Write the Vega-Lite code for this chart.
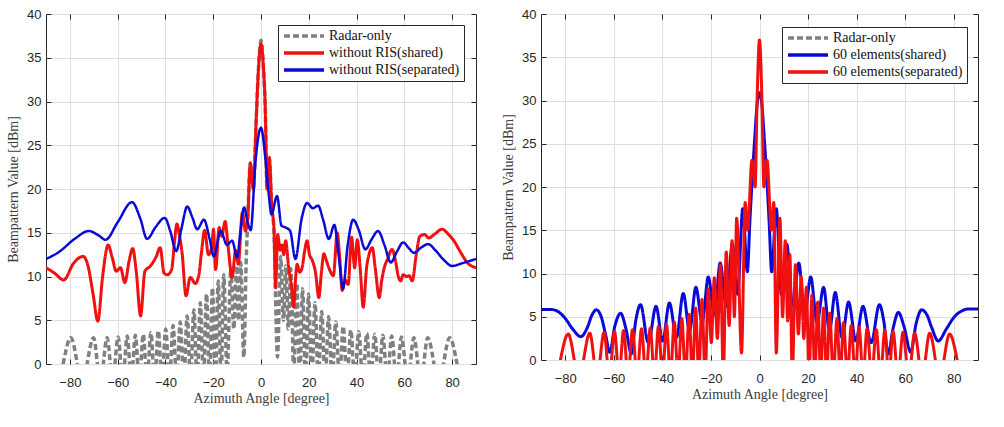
{
  "$schema": "https://vega.github.io/schema/vega-lite/v6.json",
  "background": "white",
  "padding": {"left": 6, "top": 7, "right": 0, "bottom": 0},
  "spacing": 24,
  "datasets": {
    "left": [
      {"s": "Radar-only", "x": -90, "y": -8}, {"s": "Radar-only", "x": -84.4, "y": -2}, {"s": "Radar-only", "x": -79.6, "y": 3.0}, {"s": "Radar-only", "x": -74.85, "y": -2}, {"s": "Radar-only", "x": -70.1, "y": 3.0}, {"s": "Radar-only", "x": -67.25, "y": -2}, {"s": "Radar-only", "x": -64.4, "y": 3.0}, {"s": "Radar-only", "x": -62.1, "y": -2}, {"s": "Radar-only", "x": -59.8, "y": 3.1}, {"s": "Radar-only", "x": -57.9, "y": -2}, {"s": "Radar-only", "x": -56.0, "y": 3.2}, {"s": "Radar-only", "x": -54.3, "y": -2}, {"s": "Radar-only", "x": -52.6, "y": 3.3}, {"s": "Radar-only", "x": -50.95, "y": -2}, {"s": "Radar-only", "x": -49.3, "y": 3.4}, {"s": "Radar-only", "x": -47.7, "y": -2}, {"s": "Radar-only", "x": -46.1, "y": 3.6}, {"s": "Radar-only", "x": -44.55, "y": -2}, {"s": "Radar-only", "x": -43.0, "y": 3.8}, {"s": "Radar-only", "x": -41.45, "y": -2}, {"s": "Radar-only", "x": -39.9, "y": 4.0}, {"s": "Radar-only", "x": -38.35, "y": -2}, {"s": "Radar-only", "x": -36.8, "y": 4.4}, {"s": "Radar-only", "x": -35.3, "y": -2}, {"s": "Radar-only", "x": -33.8, "y": 4.8}, {"s": "Radar-only", "x": -32.35, "y": -2}, {"s": "Radar-only", "x": -30.9, "y": 5.5}, {"s": "Radar-only", "x": -29.5, "y": -2}, {"s": "Radar-only", "x": -28.1, "y": 6.2}, {"s": "Radar-only", "x": -26.75, "y": -2}, {"s": "Radar-only", "x": -25.4, "y": 7.0}, {"s": "Radar-only", "x": -24.1, "y": -2}, {"s": "Radar-only", "x": -22.8, "y": 8.0}, {"s": "Radar-only", "x": -21.55, "y": -2}, {"s": "Radar-only", "x": -20.3, "y": 8.7}, {"s": "Radar-only", "x": -19.1, "y": -2}, {"s": "Radar-only", "x": -17.9, "y": 9.5}, {"s": "Radar-only", "x": -16.75, "y": -2}, {"s": "Radar-only", "x": -15.6, "y": 10.2}, {"s": "Radar-only", "x": -14.2, "y": -1}, {"s": "Radar-only", "x": -12.6, "y": 10.9}, {"s": "Radar-only", "x": -11.4, "y": 4.0}, {"s": "Radar-only", "x": -10.2, "y": 11.2}, {"s": "Radar-only", "x": -9.4, "y": 5.0}, {"s": "Radar-only", "x": -8.5, "y": 11.6}, {"s": "Radar-only", "x": -7.2, "y": 0.8}, {"s": "Radar-only", "x": -6.2, "y": 11.8}, {"s": "Radar-only", "x": -5.5, "y": 16.8}, {"s": "Radar-only", "x": -4.5, "y": 22.8}, {"s": "Radar-only", "x": -3.2, "y": 20.0}, {"s": "Radar-only", "x": -2.0, "y": 28.0}, {"s": "Radar-only", "x": -1.0, "y": 34.0}, {"s": "Radar-only", "x": 0, "y": 37}, {"s": "Radar-only", "x": 1.0, "y": 34.0}, {"s": "Radar-only", "x": 1.8, "y": 29.0}, {"s": "Radar-only", "x": 2.5, "y": 20.0}, {"s": "Radar-only", "x": 3.5, "y": 23.4}, {"s": "Radar-only", "x": 4.5, "y": 18.0}, {"s": "Radar-only", "x": 5.4, "y": 15.4}, {"s": "Radar-only", "x": 6.9, "y": 0.8}, {"s": "Radar-only", "x": 8.2, "y": 12.3}, {"s": "Radar-only", "x": 9.4, "y": 5.0}, {"s": "Radar-only", "x": 10.4, "y": 11.2}, {"s": "Radar-only", "x": 11.4, "y": 4.0}, {"s": "Radar-only", "x": 12.5, "y": 10.9}, {"s": "Radar-only", "x": 13.7, "y": -1}, {"s": "Radar-only", "x": 15.0, "y": 9.2}, {"s": "Radar-only", "x": 16.2, "y": -2}, {"s": "Radar-only", "x": 17.4, "y": 8.6}, {"s": "Radar-only", "x": 18.65, "y": -2}, {"s": "Radar-only", "x": 19.9, "y": 8.0}, {"s": "Radar-only", "x": 21.25, "y": -2}, {"s": "Radar-only", "x": 22.6, "y": 7.0}, {"s": "Radar-only", "x": 24.0, "y": -2}, {"s": "Radar-only", "x": 25.4, "y": 6.0}, {"s": "Radar-only", "x": 26.85, "y": -2}, {"s": "Radar-only", "x": 28.3, "y": 5.4}, {"s": "Radar-only", "x": 29.8, "y": -2}, {"s": "Radar-only", "x": 31.3, "y": 4.8}, {"s": "Radar-only", "x": 32.85, "y": -2}, {"s": "Radar-only", "x": 34.4, "y": 4.3}, {"s": "Radar-only", "x": 36.0, "y": -2}, {"s": "Radar-only", "x": 37.6, "y": 3.9}, {"s": "Radar-only", "x": 39.25, "y": -2}, {"s": "Radar-only", "x": 40.9, "y": 3.7}, {"s": "Radar-only", "x": 42.6, "y": -2}, {"s": "Radar-only", "x": 44.3, "y": 3.5}, {"s": "Radar-only", "x": 45.95, "y": -2}, {"s": "Radar-only", "x": 47.6, "y": 3.4}, {"s": "Radar-only", "x": 49.3, "y": -2}, {"s": "Radar-only", "x": 51.0, "y": 3.3}, {"s": "Radar-only", "x": 52.85, "y": -2}, {"s": "Radar-only", "x": 54.7, "y": 3.2}, {"s": "Radar-only", "x": 56.75, "y": -2}, {"s": "Radar-only", "x": 58.8, "y": 3.1}, {"s": "Radar-only", "x": 61.4, "y": -2}, {"s": "Radar-only", "x": 64.0, "y": 3.0}, {"s": "Radar-only", "x": 66.9, "y": -2}, {"s": "Radar-only", "x": 69.8, "y": 3.0}, {"s": "Radar-only", "x": 74.4, "y": -2}, {"s": "Radar-only", "x": 79.0, "y": 3.0}, {"s": "Radar-only", "x": 83.6, "y": -2}, {"s": "Radar-only", "x": 90, "y": -8},

      {"s": "without RIS(shared)", "x": -90, "y": 11.0}, {"s": "without RIS(shared)", "x": -86.5, "y": 10.4}, {"s": "without RIS(shared)", "x": -82.6, "y": 9.6}, {"s": "without RIS(shared)", "x": -78.5, "y": 11.5}, {"s": "without RIS(shared)", "x": -74.5, "y": 12.3}, {"s": "without RIS(shared)", "x": -72.5, "y": 11.3}, {"s": "without RIS(shared)", "x": -70.3, "y": 8.0}, {"s": "without RIS(shared)", "x": -68.3, "y": 4.9}, {"s": "without RIS(shared)", "x": -66.3, "y": 10.0}, {"s": "without RIS(shared)", "x": -64.0, "y": 13.6}, {"s": "without RIS(shared)", "x": -62.3, "y": 12.2}, {"s": "without RIS(shared)", "x": -60.6, "y": 10.6}, {"s": "without RIS(shared)", "x": -58.8, "y": 11.0}, {"s": "without RIS(shared)", "x": -57.0, "y": 9.3}, {"s": "without RIS(shared)", "x": -55.2, "y": 11.8}, {"s": "without RIS(shared)", "x": -53.7, "y": 13.2}, {"s": "without RIS(shared)", "x": -52.2, "y": 10.5}, {"s": "without RIS(shared)", "x": -50.4, "y": 5.5}, {"s": "without RIS(shared)", "x": -48.6, "y": 10.6}, {"s": "without RIS(shared)", "x": -46.3, "y": 11.2}, {"s": "without RIS(shared)", "x": -44.0, "y": 12.2}, {"s": "without RIS(shared)", "x": -42.2, "y": 13.3}, {"s": "without RIS(shared)", "x": -40.6, "y": 10.4}, {"s": "without RIS(shared)", "x": -39.2, "y": 10.2}, {"s": "without RIS(shared)", "x": -37.4, "y": 10.8}, {"s": "without RIS(shared)", "x": -36.2, "y": 14.0}, {"s": "without RIS(shared)", "x": -35.2, "y": 16.0}, {"s": "without RIS(shared)", "x": -34.2, "y": 14.8}, {"s": "without RIS(shared)", "x": -33.0, "y": 12.6}, {"s": "without RIS(shared)", "x": -31.4, "y": 7.8}, {"s": "without RIS(shared)", "x": -29.6, "y": 9.9}, {"s": "without RIS(shared)", "x": -27.5, "y": 9.2}, {"s": "without RIS(shared)", "x": -26.0, "y": 10.2}, {"s": "without RIS(shared)", "x": -24.9, "y": 12.8}, {"s": "without RIS(shared)", "x": -23.6, "y": 15.3}, {"s": "without RIS(shared)", "x": -22.0, "y": 12.5}, {"s": "without RIS(shared)", "x": -20.6, "y": 13.4}, {"s": "without RIS(shared)", "x": -19.9, "y": 15.4}, {"s": "without RIS(shared)", "x": -19.0, "y": 10.8}, {"s": "without RIS(shared)", "x": -17.5, "y": 15.6}, {"s": "without RIS(shared)", "x": -16.4, "y": 14.6}, {"s": "without RIS(shared)", "x": -15.0, "y": 16.3}, {"s": "without RIS(shared)", "x": -13.8, "y": 13.5}, {"s": "without RIS(shared)", "x": -12.1, "y": 9.9}, {"s": "without RIS(shared)", "x": -10.6, "y": 13.0}, {"s": "without RIS(shared)", "x": -9.5, "y": 11.4}, {"s": "without RIS(shared)", "x": -7.8, "y": 17.3}, {"s": "without RIS(shared)", "x": -6.5, "y": 15.2}, {"s": "without RIS(shared)", "x": -5.5, "y": 17.0}, {"s": "without RIS(shared)", "x": -4.5, "y": 23.0}, {"s": "without RIS(shared)", "x": -3.2, "y": 20.0}, {"s": "without RIS(shared)", "x": -2.0, "y": 28.0}, {"s": "without RIS(shared)", "x": -1.0, "y": 34.0}, {"s": "without RIS(shared)", "x": 0, "y": 36.6}, {"s": "without RIS(shared)", "x": 1.0, "y": 34.0}, {"s": "without RIS(shared)", "x": 1.8, "y": 29.0}, {"s": "without RIS(shared)", "x": 2.5, "y": 20.0}, {"s": "without RIS(shared)", "x": 3.5, "y": 23.6}, {"s": "without RIS(shared)", "x": 4.5, "y": 18.0}, {"s": "without RIS(shared)", "x": 5.4, "y": 15.6}, {"s": "without RIS(shared)", "x": 6.1, "y": 8.7}, {"s": "without RIS(shared)", "x": 7.0, "y": 14.8}, {"s": "without RIS(shared)", "x": 8.0, "y": 13.0}, {"s": "without RIS(shared)", "x": 8.8, "y": 13.6}, {"s": "without RIS(shared)", "x": 9.5, "y": 12.5}, {"s": "without RIS(shared)", "x": 10.3, "y": 14.1}, {"s": "without RIS(shared)", "x": 11.6, "y": 11.0}, {"s": "without RIS(shared)", "x": 12.6, "y": 9.2}, {"s": "without RIS(shared)", "x": 13.7, "y": 6.5}, {"s": "without RIS(shared)", "x": 14.4, "y": 9.5}, {"s": "without RIS(shared)", "x": 15.1, "y": 11.4}, {"s": "without RIS(shared)", "x": 16.2, "y": 10.5}, {"s": "without RIS(shared)", "x": 17.2, "y": 11.0}, {"s": "without RIS(shared)", "x": 18.2, "y": 12.8}, {"s": "without RIS(shared)", "x": 19.3, "y": 14.1}, {"s": "without RIS(shared)", "x": 20.3, "y": 12.5}, {"s": "without RIS(shared)", "x": 21.4, "y": 11.9}, {"s": "without RIS(shared)", "x": 22.8, "y": 10.5}, {"s": "without RIS(shared)", "x": 24.2, "y": 7.6}, {"s": "without RIS(shared)", "x": 25.3, "y": 10.5}, {"s": "without RIS(shared)", "x": 26.3, "y": 12.6}, {"s": "without RIS(shared)", "x": 27.4, "y": 11.8}, {"s": "without RIS(shared)", "x": 28.4, "y": 11.0}, {"s": "without RIS(shared)", "x": 30.3, "y": 10.1}, {"s": "without RIS(shared)", "x": 31.9, "y": 15.0}, {"s": "without RIS(shared)", "x": 33.0, "y": 12.0}, {"s": "without RIS(shared)", "x": 34.0, "y": 8.4}, {"s": "without RIS(shared)", "x": 35.2, "y": 9.6}, {"s": "without RIS(shared)", "x": 36.5, "y": 9.1}, {"s": "without RIS(shared)", "x": 37.9, "y": 14.5}, {"s": "without RIS(shared)", "x": 39.2, "y": 11.0}, {"s": "without RIS(shared)", "x": 40.3, "y": 14.2}, {"s": "without RIS(shared)", "x": 41.5, "y": 11.0}, {"s": "without RIS(shared)", "x": 42.8, "y": 6.5}, {"s": "without RIS(shared)", "x": 44.2, "y": 11.0}, {"s": "without RIS(shared)", "x": 45.3, "y": 12.6}, {"s": "without RIS(shared)", "x": 46.6, "y": 13.3}, {"s": "without RIS(shared)", "x": 47.8, "y": 11.0}, {"s": "without RIS(shared)", "x": 49.5, "y": 7.6}, {"s": "without RIS(shared)", "x": 50.5, "y": 9.5}, {"s": "without RIS(shared)", "x": 51.6, "y": 11.0}, {"s": "without RIS(shared)", "x": 53.0, "y": 12.0}, {"s": "without RIS(shared)", "x": 54.9, "y": 13.1}, {"s": "without RIS(shared)", "x": 56.3, "y": 11.8}, {"s": "without RIS(shared)", "x": 57.5, "y": 10.0}, {"s": "without RIS(shared)", "x": 58.5, "y": 9.5}, {"s": "without RIS(shared)", "x": 59.5, "y": 10.2}, {"s": "without RIS(shared)", "x": 61.0, "y": 10.0}, {"s": "without RIS(shared)", "x": 62.0, "y": 10.1}, {"s": "without RIS(shared)", "x": 63.3, "y": 9.5}, {"s": "without RIS(shared)", "x": 65.0, "y": 12.5}, {"s": "without RIS(shared)", "x": 66.5, "y": 14.6}, {"s": "without RIS(shared)", "x": 68.5, "y": 14.8}, {"s": "without RIS(shared)", "x": 70.2, "y": 14.4}, {"s": "without RIS(shared)", "x": 72.5, "y": 14.8}, {"s": "without RIS(shared)", "x": 75.8, "y": 15.4}, {"s": "without RIS(shared)", "x": 78.5, "y": 14.8}, {"s": "without RIS(shared)", "x": 80.7, "y": 14.1}, {"s": "without RIS(shared)", "x": 83.5, "y": 12.8}, {"s": "without RIS(shared)", "x": 86.3, "y": 11.6}, {"s": "without RIS(shared)", "x": 90, "y": 11.0},

      {"s": "without RIS(separated)", "x": -90, "y": 12.0}, {"s": "without RIS(separated)", "x": -84.6, "y": 12.8}, {"s": "without RIS(separated)", "x": -78.0, "y": 14.3}, {"s": "without RIS(separated)", "x": -72.1, "y": 15.2}, {"s": "without RIS(separated)", "x": -68.0, "y": 14.7}, {"s": "without RIS(separated)", "x": -65.1, "y": 14.2}, {"s": "without RIS(separated)", "x": -60.0, "y": 16.2}, {"s": "without RIS(separated)", "x": -54.0, "y": 18.5}, {"s": "without RIS(separated)", "x": -50.5, "y": 16.6}, {"s": "without RIS(separated)", "x": -47.7, "y": 14.3}, {"s": "without RIS(separated)", "x": -44.0, "y": 15.7}, {"s": "without RIS(separated)", "x": -40.3, "y": 16.7}, {"s": "without RIS(separated)", "x": -38.0, "y": 15.2}, {"s": "without RIS(separated)", "x": -35.5, "y": 12.9}, {"s": "without RIS(separated)", "x": -33.2, "y": 15.6}, {"s": "without RIS(separated)", "x": -30.9, "y": 18.0}, {"s": "without RIS(separated)", "x": -28.8, "y": 16.8}, {"s": "without RIS(separated)", "x": -26.7, "y": 15.4}, {"s": "without RIS(separated)", "x": -23.9, "y": 16.5}, {"s": "without RIS(separated)", "x": -21.5, "y": 14.3}, {"s": "without RIS(separated)", "x": -19.8, "y": 12.3}, {"s": "without RIS(separated)", "x": -16.9, "y": 15.2}, {"s": "without RIS(separated)", "x": -14.2, "y": 13.6}, {"s": "without RIS(separated)", "x": -12.1, "y": 14.1}, {"s": "without RIS(separated)", "x": -10.0, "y": 12.2}, {"s": "without RIS(separated)", "x": -8.6, "y": 15.2}, {"s": "without RIS(separated)", "x": -7.1, "y": 17.9}, {"s": "without RIS(separated)", "x": -5.6, "y": 16.2}, {"s": "without RIS(separated)", "x": -4.3, "y": 15.3}, {"s": "without RIS(separated)", "x": -2.3, "y": 23.2}, {"s": "without RIS(separated)", "x": 0, "y": 27.0}, {"s": "without RIS(separated)", "x": 1.8, "y": 23.6}, {"s": "without RIS(separated)", "x": 3.2, "y": 19.5}, {"s": "without RIS(separated)", "x": 4.4, "y": 17.1}, {"s": "without RIS(separated)", "x": 6.7, "y": 19.2}, {"s": "without RIS(separated)", "x": 8.6, "y": 15.8}, {"s": "without RIS(separated)", "x": 10.3, "y": 15.6}, {"s": "without RIS(separated)", "x": 12.2, "y": 15.2}, {"s": "without RIS(separated)", "x": 14.4, "y": 12.0}, {"s": "without RIS(separated)", "x": 17.0, "y": 16.6}, {"s": "without RIS(separated)", "x": 19.3, "y": 18.4}, {"s": "without RIS(separated)", "x": 21.7, "y": 17.8}, {"s": "without RIS(separated)", "x": 23.9, "y": 18.1}, {"s": "without RIS(separated)", "x": 26.0, "y": 16.5}, {"s": "without RIS(separated)", "x": 28.4, "y": 14.3}, {"s": "without RIS(separated)", "x": 30.7, "y": 15.9}, {"s": "without RIS(separated)", "x": 32.6, "y": 12.2}, {"s": "without RIS(separated)", "x": 34.3, "y": 8.6}, {"s": "without RIS(separated)", "x": 36.3, "y": 13.6}, {"s": "without RIS(separated)", "x": 38.6, "y": 16.5}, {"s": "without RIS(separated)", "x": 40.8, "y": 15.4}, {"s": "without RIS(separated)", "x": 43.7, "y": 13.1}, {"s": "without RIS(separated)", "x": 46.2, "y": 14.2}, {"s": "without RIS(separated)", "x": 49.0, "y": 15.2}, {"s": "without RIS(separated)", "x": 51.8, "y": 13.5}, {"s": "without RIS(separated)", "x": 54.3, "y": 11.6}, {"s": "without RIS(separated)", "x": 57.0, "y": 12.9}, {"s": "without RIS(separated)", "x": 59.5, "y": 13.9}, {"s": "without RIS(separated)", "x": 62.0, "y": 13.2}, {"s": "without RIS(separated)", "x": 64.0, "y": 12.7}, {"s": "without RIS(separated)", "x": 67.0, "y": 13.3}, {"s": "without RIS(separated)", "x": 70.0, "y": 13.7}, {"s": "without RIS(separated)", "x": 73.0, "y": 13.0}, {"s": "without RIS(separated)", "x": 76.5, "y": 11.9}, {"s": "without RIS(separated)", "x": 80.0, "y": 11.2}, {"s": "without RIS(separated)", "x": 84.0, "y": 11.5}, {"s": "without RIS(separated)", "x": 90, "y": 12.0}
    ],
    "right": [
      {"s": "60 elements(shared)", "x": -90, "y": 5.85}, {"s": "60 elements(shared)", "x": -86, "y": 5.85}, {"s": "60 elements(shared)", "x": -83, "y": 5.6}, {"s": "60 elements(shared)", "x": -80, "y": 4.8}, {"s": "60 elements(shared)", "x": -77, "y": 3.6}, {"s": "60 elements(shared)", "x": -73.6, "y": 2.7}, {"s": "60 elements(shared)", "x": -71, "y": 3.7}, {"s": "60 elements(shared)", "x": -69, "y": 5.2}, {"s": "60 elements(shared)", "x": -67.2, "y": 5.8}, {"s": "60 elements(shared)", "x": -65.2, "y": 5.0}, {"s": "60 elements(shared)", "x": -63.3, "y": 2.8}, {"s": "60 elements(shared)", "x": -61.7, "y": 0.9}, {"s": "60 elements(shared)", "x": -59.6, "y": 3.9}, {"s": "60 elements(shared)", "x": -57.2, "y": 5.4}, {"s": "60 elements(shared)", "x": -55, "y": 3.6}, {"s": "60 elements(shared)", "x": -52.8, "y": 0.7}, {"s": "60 elements(shared)", "x": -51, "y": 4.5}, {"s": "60 elements(shared)", "x": -49.0, "y": 6.4}, {"s": "60 elements(shared)", "x": -45.8, "y": 2.0}, {"s": "60 elements(shared)", "x": -42.6, "y": 6.2}, {"s": "60 elements(shared)", "x": -39.9, "y": 2.2}, {"s": "60 elements(shared)", "x": -37.1, "y": 6.6}, {"s": "60 elements(shared)", "x": -34.2, "y": 2.6}, {"s": "60 elements(shared)", "x": -31.4, "y": 7.7}, {"s": "60 elements(shared)", "x": -28.8, "y": 3.4}, {"s": "60 elements(shared)", "x": -26.2, "y": 8.4}, {"s": "60 elements(shared)", "x": -23.6, "y": 4.3}, {"s": "60 elements(shared)", "x": -21.1, "y": 9.6}, {"s": "60 elements(shared)", "x": -18.6, "y": 5.2}, {"s": "60 elements(shared)", "x": -16.2, "y": 11.2}, {"s": "60 elements(shared)", "x": -13.7, "y": 6.2}, {"s": "60 elements(shared)", "x": -11.2, "y": 13.4}, {"s": "60 elements(shared)", "x": -9.0, "y": 7.6}, {"s": "60 elements(shared)", "x": -6.9, "y": 17.5}, {"s": "60 elements(shared)", "x": -5.0, "y": 10.2}, {"s": "60 elements(shared)", "x": -4.0, "y": 15.8}, {"s": "60 elements(shared)", "x": -3.0, "y": 21.0}, {"s": "60 elements(shared)", "x": -2.0, "y": 25.5}, {"s": "60 elements(shared)", "x": -1.0, "y": 29.5}, {"s": "60 elements(shared)", "x": 0, "y": 30.9}, {"s": "60 elements(shared)", "x": 1.0, "y": 29.5}, {"s": "60 elements(shared)", "x": 2.0, "y": 25.5}, {"s": "60 elements(shared)", "x": 3.0, "y": 21.0}, {"s": "60 elements(shared)", "x": 4.0, "y": 15.8}, {"s": "60 elements(shared)", "x": 5.0, "y": 10.2}, {"s": "60 elements(shared)", "x": 6.9, "y": 17.5}, {"s": "60 elements(shared)", "x": 9.0, "y": 7.6}, {"s": "60 elements(shared)", "x": 11.2, "y": 13.4}, {"s": "60 elements(shared)", "x": 13.7, "y": 6.2}, {"s": "60 elements(shared)", "x": 16.2, "y": 11.2}, {"s": "60 elements(shared)", "x": 18.6, "y": 5.2}, {"s": "60 elements(shared)", "x": 21.1, "y": 9.6}, {"s": "60 elements(shared)", "x": 23.7, "y": 4.3}, {"s": "60 elements(shared)", "x": 26.4, "y": 8.4}, {"s": "60 elements(shared)", "x": 28.8, "y": 3.4}, {"s": "60 elements(shared)", "x": 31.2, "y": 7.8}, {"s": "60 elements(shared)", "x": 34.0, "y": 2.6}, {"s": "60 elements(shared)", "x": 36.7, "y": 6.7}, {"s": "60 elements(shared)", "x": 39.7, "y": 2.2}, {"s": "60 elements(shared)", "x": 42.6, "y": 6.2}, {"s": "60 elements(shared)", "x": 46.0, "y": 2.0}, {"s": "60 elements(shared)", "x": 49.4, "y": 6.4}, {"s": "60 elements(shared)", "x": 51.2, "y": 4.5}, {"s": "60 elements(shared)", "x": 53.0, "y": 0.7}, {"s": "60 elements(shared)", "x": 55, "y": 3.6}, {"s": "60 elements(shared)", "x": 57.2, "y": 5.5}, {"s": "60 elements(shared)", "x": 59.5, "y": 3.9}, {"s": "60 elements(shared)", "x": 62.3, "y": 0.9}, {"s": "60 elements(shared)", "x": 64.5, "y": 4.2}, {"s": "60 elements(shared)", "x": 66.8, "y": 5.8}, {"s": "60 elements(shared)", "x": 69, "y": 5.2}, {"s": "60 elements(shared)", "x": 71, "y": 3.7}, {"s": "60 elements(shared)", "x": 73.6, "y": 2.2}, {"s": "60 elements(shared)", "x": 77, "y": 3.6}, {"s": "60 elements(shared)", "x": 80, "y": 4.9}, {"s": "60 elements(shared)", "x": 83.5, "y": 5.7}, {"s": "60 elements(shared)", "x": 86, "y": 5.9}, {"s": "60 elements(shared)", "x": 90, "y": 5.9},

      {"s": "60 elements(separated)", "x": -90, "y": -8}, {"s": "60 elements(separated)", "x": -83.6, "y": -2}, {"s": "60 elements(separated)", "x": -78.8, "y": 3.0}, {"s": "60 elements(separated)", "x": -74.4, "y": -2}, {"s": "60 elements(separated)", "x": -69.9, "y": 3.1}, {"s": "60 elements(separated)", "x": -66.9, "y": -2}, {"s": "60 elements(separated)", "x": -64.0, "y": 3.2}, {"s": "60 elements(separated)", "x": -61.85, "y": -2}, {"s": "60 elements(separated)", "x": -59.7, "y": 3.3}, {"s": "60 elements(separated)", "x": -57.85, "y": -2}, {"s": "60 elements(separated)", "x": -56.0, "y": 3.4}, {"s": "60 elements(separated)", "x": -54.15, "y": -2}, {"s": "60 elements(separated)", "x": -52.3, "y": 3.5}, {"s": "60 elements(separated)", "x": -50.45, "y": -2}, {"s": "60 elements(separated)", "x": -48.6, "y": 3.6}, {"s": "60 elements(separated)", "x": -46.8, "y": -2}, {"s": "60 elements(separated)", "x": -45.0, "y": 3.7}, {"s": "60 elements(separated)", "x": -43.3, "y": -2}, {"s": "60 elements(separated)", "x": -41.6, "y": 3.9}, {"s": "60 elements(separated)", "x": -39.95, "y": -2}, {"s": "60 elements(separated)", "x": -38.3, "y": 4.1}, {"s": "60 elements(separated)", "x": -36.7, "y": -2}, {"s": "60 elements(separated)", "x": -35.1, "y": 4.4}, {"s": "60 elements(separated)", "x": -33.55, "y": -2}, {"s": "60 elements(separated)", "x": -32.0, "y": 4.8}, {"s": "60 elements(separated)", "x": -30.5, "y": -2}, {"s": "60 elements(separated)", "x": -29.0, "y": 5.3}, {"s": "60 elements(separated)", "x": -27.65, "y": -2}, {"s": "60 elements(separated)", "x": -26.3, "y": 6.0}, {"s": "60 elements(separated)", "x": -25.0, "y": -2}, {"s": "60 elements(separated)", "x": -23.7, "y": 7.0}, {"s": "60 elements(separated)", "x": -22.4, "y": -2}, {"s": "60 elements(separated)", "x": -21.1, "y": 8.2}, {"s": "60 elements(separated)", "x": -19.85, "y": 2.0}, {"s": "60 elements(separated)", "x": -18.6, "y": 9.5}, {"s": "60 elements(separated)", "x": -17.35, "y": 2.5}, {"s": "60 elements(separated)", "x": -16.1, "y": 11.0}, {"s": "60 elements(separated)", "x": -14.9, "y": -2}, {"s": "60 elements(separated)", "x": -13.7, "y": 12.5}, {"s": "60 elements(separated)", "x": -12.5, "y": 4.0}, {"s": "60 elements(separated)", "x": -11.3, "y": 13.8}, {"s": "60 elements(separated)", "x": -10.35, "y": 5.0}, {"s": "60 elements(separated)", "x": -9.4, "y": 16.4}, {"s": "60 elements(separated)", "x": -7.4, "y": 0.8}, {"s": "60 elements(separated)", "x": -5.9, "y": 18.2}, {"s": "60 elements(separated)", "x": -4.9, "y": 15.0}, {"s": "60 elements(separated)", "x": -3.1, "y": 23.1}, {"s": "60 elements(separated)", "x": -1.8, "y": 20.0}, {"s": "60 elements(separated)", "x": -1.0, "y": 30.0}, {"s": "60 elements(separated)", "x": 0, "y": 37.0}, {"s": "60 elements(separated)", "x": 1.0, "y": 30.0}, {"s": "60 elements(separated)", "x": 1.8, "y": 20.0}, {"s": "60 elements(separated)", "x": 3.1, "y": 23.1}, {"s": "60 elements(separated)", "x": 4.9, "y": 15.0}, {"s": "60 elements(separated)", "x": 5.9, "y": 18.2}, {"s": "60 elements(separated)", "x": 6.9, "y": 0.8}, {"s": "60 elements(separated)", "x": 8.4, "y": 16.4}, {"s": "60 elements(separated)", "x": 9.5, "y": 5.0}, {"s": "60 elements(separated)", "x": 10.6, "y": 13.8}, {"s": "60 elements(separated)", "x": 11.6, "y": 4.5}, {"s": "60 elements(separated)", "x": 12.5, "y": 12.2}, {"s": "60 elements(separated)", "x": 13.5, "y": -2}, {"s": "60 elements(separated)", "x": 14.8, "y": 11.0}, {"s": "60 elements(separated)", "x": 16.0, "y": 3.0}, {"s": "60 elements(separated)", "x": 17.2, "y": 9.6}, {"s": "60 elements(separated)", "x": 18.25, "y": 2.5}, {"s": "60 elements(separated)", "x": 19.3, "y": 8.4}, {"s": "60 elements(separated)", "x": 20.4, "y": -2}, {"s": "60 elements(separated)", "x": 21.6, "y": 7.5}, {"s": "60 elements(separated)", "x": 22.8, "y": -2}, {"s": "60 elements(separated)", "x": 24.0, "y": 6.7}, {"s": "60 elements(separated)", "x": 25.2, "y": -2}, {"s": "60 elements(separated)", "x": 26.4, "y": 6.0}, {"s": "60 elements(separated)", "x": 27.65, "y": -2}, {"s": "60 elements(separated)", "x": 28.9, "y": 5.4}, {"s": "60 elements(separated)", "x": 30.4, "y": -2}, {"s": "60 elements(separated)", "x": 31.9, "y": 4.8}, {"s": "60 elements(separated)", "x": 33.25, "y": -2}, {"s": "60 elements(separated)", "x": 34.6, "y": 4.3}, {"s": "60 elements(separated)", "x": 36.2, "y": -2}, {"s": "60 elements(separated)", "x": 37.8, "y": 4.0}, {"s": "60 elements(separated)", "x": 39.4, "y": -2}, {"s": "60 elements(separated)", "x": 41.0, "y": 3.8}, {"s": "60 elements(separated)", "x": 42.65, "y": -2}, {"s": "60 elements(separated)", "x": 44.3, "y": 3.6}, {"s": "60 elements(separated)", "x": 46.2, "y": -2}, {"s": "60 elements(separated)", "x": 48.1, "y": 3.5}, {"s": "60 elements(separated)", "x": 49.85, "y": -2}, {"s": "60 elements(separated)", "x": 51.6, "y": 3.4}, {"s": "60 elements(separated)", "x": 53.3, "y": -2}, {"s": "60 elements(separated)", "x": 55.0, "y": 3.3}, {"s": "60 elements(separated)", "x": 57.05, "y": -2}, {"s": "60 elements(separated)", "x": 59.1, "y": 3.2}, {"s": "60 elements(separated)", "x": 61.5, "y": -2}, {"s": "60 elements(separated)", "x": 63.9, "y": 3.1}, {"s": "60 elements(separated)", "x": 67.0, "y": -2}, {"s": "60 elements(separated)", "x": 70.1, "y": 3.1}, {"s": "60 elements(separated)", "x": 74.2, "y": -2}, {"s": "60 elements(separated)", "x": 78.3, "y": 3.0}, {"s": "60 elements(separated)", "x": 83.0, "y": -2}, {"s": "60 elements(separated)", "x": 90, "y": -8}
    ]
  },
  "hconcat": [
    {
      "width": 430,
      "height": 350,
      "data": {"name": "left"},
      "resolve": {"axis": {"x": "independent", "y": "independent"}},
      "layer": [
        {
          "transform": [{"filter": "datum.s === 'Radar-only'"}],
          "mark": {"type": "line", "interpolate": "monotone", "clip": true, "strokeWidth": 3.5, "strokeCap": "butt"},
          "encoding": {
            "x": {"field": "x", "type": "quantitative", "scale": {"domain": [-90, 90], "nice": false, "zero": false},
                  "axis": {"title": "Azimuth Angle [degree]", "values": [-80, -60, -40, -20, 0, 20, 40, 60, 80], "grid": true, "labelPadding": 17, "titlePadding": 2}},
            "y": {"field": "y", "type": "quantitative", "scale": {"domain": [0, 40], "nice": false},
                  "axis": {"title": "Beampattern Value [dBm]", "values": [0, 5, 10, 15, 20, 25, 30, 35, 40], "grid": true, "labelPadding": 10, "titlePadding": 6}},
            "color": {"field": "s", "type": "nominal",
                      "scale": {"domain": ["Radar-only", "without RIS(shared)", "without RIS(separated)"], "range": ["#808080", "#f01010", "#0a0ad8"]},
                      "legend": {"orient": "none", "legendX": 232, "legendY": 11}},
            "strokeDash": {"field": "s", "type": "nominal",
                           "scale": {"domain": ["Radar-only", "without RIS(shared)", "without RIS(separated)"], "range": [[6, 3], [1, 0], [1, 0]]},
                           "legend": {"orient": "none", "legendX": 232, "legendY": 11}}
          }
        },
        {
          "transform": [{"filter": "datum.s === 'without RIS(shared)'"}],
          "mark": {"type": "line", "interpolate": "monotone", "clip": true, "strokeWidth": 3},
          "encoding": {
            "x": {"field": "x", "type": "quantitative", "axis": {"orient": "top", "labels": false, "title": null, "grid": false, "values": [-80, -60, -40, -20, 0, 20, 40, 60, 80]}},
            "y": {"field": "y", "type": "quantitative", "axis": {"orient": "right", "labels": false, "title": null, "grid": false, "values": [0, 5, 10, 15, 20, 25, 30, 35, 40]}},
            "color": {"field": "s", "type": "nominal"},
            "strokeDash": {"field": "s", "type": "nominal"}
          }
        },
        {
          "transform": [{"filter": "datum.s === 'without RIS(separated)'"}],
          "mark": {"type": "line", "interpolate": "monotone", "clip": true, "strokeWidth": 2.5},
          "encoding": {
            "x": {"field": "x", "type": "quantitative", "axis": null},
            "y": {"field": "y", "type": "quantitative", "axis": null},
            "color": {"field": "s", "type": "nominal"},
            "strokeDash": {"field": "s", "type": "nominal"}
          }
        }
      ]
    },
    {
      "width": 437,
      "height": 346,
      "data": {"name": "right"},
      "resolve": {"axis": {"x": "independent", "y": "independent"}},
      "layer": [
        {
          "transform": [{"filter": "datum.s === '60 elements(shared)'"}],
          "mark": {"type": "line", "interpolate": "monotone", "clip": true, "strokeWidth": 3},
          "encoding": {
            "x": {"field": "x", "type": "quantitative", "scale": {"domain": [-90, 90], "nice": false, "zero": false},
                  "axis": {"title": "Azimuth Angle [degree]", "values": [-80, -60, -40, -20, 0, 20, 40, 60, 80], "grid": true, "labelPadding": 17, "titlePadding": 2}},
            "y": {"field": "y", "type": "quantitative", "scale": {"domain": [0, 40], "nice": false},
                  "axis": {"title": "Beampattern Value [dBm]", "values": [0, 5, 10, 15, 20, 25, 30, 35, 40], "grid": true, "labelPadding": 10, "titlePadding": 6}},
            "color": {"field": "s", "type": "nominal",
                      "scale": {"domain": ["Radar-only", "60 elements(shared)", "60 elements(separated)"], "range": ["#808080", "#0a0ad8", "#f01010"]},
                      "legend": {"orient": "none", "legendX": 241, "legendY": 13}},
            "strokeDash": {"field": "s", "type": "nominal",
                           "scale": {"domain": ["Radar-only", "60 elements(shared)", "60 elements(separated)"], "range": [[6, 3], [1, 0], [1, 0]]},
                           "legend": {"orient": "none", "legendX": 241, "legendY": 13}}
          }
        },
        {
          "transform": [{"filter": "datum.s === '60 elements(separated)'"}],
          "mark": {"type": "line", "interpolate": "monotone", "clip": true, "strokeWidth": 3},
          "encoding": {
            "x": {"field": "x", "type": "quantitative", "axis": {"orient": "top", "labels": false, "title": null, "grid": false, "values": [-80, -60, -40, -20, 0, 20, 40, 60, 80]}},
            "y": {"field": "y", "type": "quantitative", "axis": {"orient": "right", "labels": false, "title": null, "grid": false, "values": [0, 5, 10, 15, 20, 25, 30, 35, 40]}},
            "color": {"field": "s", "type": "nominal"},
            "strokeDash": {"field": "s", "type": "nominal"}
          }
        }
      ]
    }
  ],
  "resolve": {"scale": {"color": "independent", "strokeDash": "independent", "x": "independent", "y": "independent"}, "legend": {"color": "independent", "strokeDash": "independent"}},
  "config": {
    "font": "Liberation Sans",
    "view": {"stroke": "#262626", "strokeWidth": 1},
    "axis": {
      "labelFont": "Liberation Sans", "labelFontSize": 13, "labelColor": "#262626",
      "titleFont": "Liberation Serif", "titleFontSize": 14, "titleFontWeight": "normal", "titleColor": "#3c3c3c",
      "gridColor": "#dedede", "gridWidth": 1, "gridOpacity": 1,
      "domain": false, "tickColor": "#262626", "tickSize": -5, "tickWidth": 1
    },
    "legend": {
      "title": null, "direction": "vertical",
      "strokeColor": "#262626", "fillColor": "white", "padding": 4, "cornerRadius": 0,
      "labelFont": "Liberation Serif", "labelFontSize": 14, "labelColor": "#111111",
      "symbolType": "M-4,0H4", "symbolSize": 100, "symbolOffset": 15, "labelOffset": 18,
      "rowPadding": 3, "symbolStrokeWidth": 3.5
    }
  }
}
